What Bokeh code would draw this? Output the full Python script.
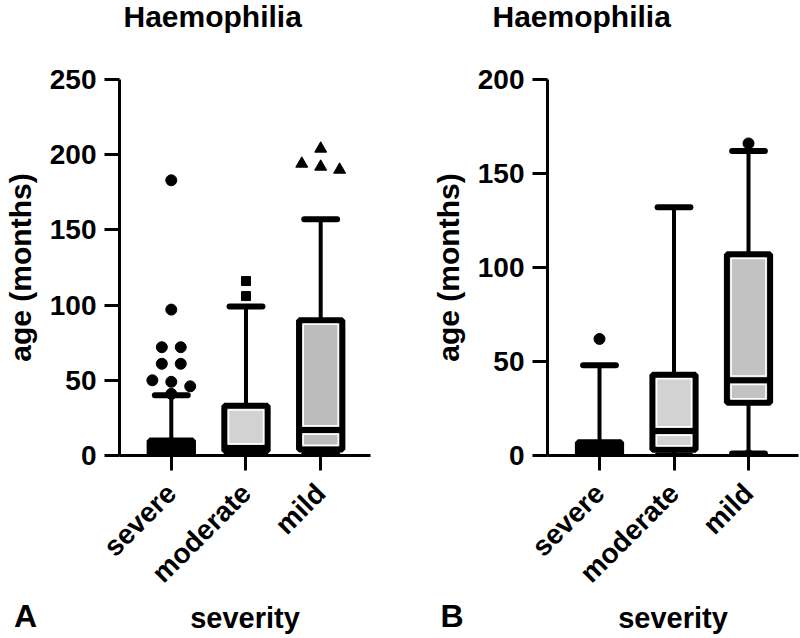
import math
from bokeh.plotting import figure
from bokeh.layouts import row
from bokeh.models import Range1d, FixedTicker, Label, Title
from bokeh.embed import file_html
from bokeh.resources import INLINE

categories = ["severe", "moderate", "mild"]

# ---- Panel A (age in months by severity) ----
a_low = [0, 0, 1]
a_q1 = [1, 3, 4]
a_median = [3, 5, 17]
a_q3 = [10, 33, 90]
a_high = [40, 99, 157]
a_out_severe = [183, 97, 72, 72, 61, 61, 50, 49, 46, 41]
a_out_moderate = [116, 106]
a_out_mild = [204, 194, 192, 190]
a_yticks = [0, 50, 100, 150, 200, 250]

# ---- Panel B ----
b_low = [0, 0, 1]
b_q1 = [0, 3, 28]
b_median = [2, 13, 40]
b_q3 = [7, 43, 107]
b_high = [48, 132, 162]
b_out_severe = [62]
b_out_moderate = []
b_out_mild = [166, 0]
b_yticks = [0, 50, 100, 150, 200]

FONT = "Liberation Sans"
HEIGHT = 638
TOP = 79
BOTTOM = 183
BOX_LW = 6


def swarm(values, center, gap, step):
    groups = []
    for v in sorted(values, reverse=True):
        if groups and groups[-1][0] - v <= gap:
            groups[-1].append(v)
        else:
            groups.append([v])
    xs, ys = [], []
    for g in groups:
        n = len(g)
        for i, v in enumerate(g):
            xs.append(center + (i - (n - 1) / 2) * step)
            ys.append(v)
    return xs, ys


def panel(low, q1, med, q3, high, outs, markers, fills, yticks, ymax,
          xr, frame_left, frame_width, right_border, title_offset, letter, letter_px,
          gap_px, step_px):
    fig_w = frame_left + frame_width + right_border
    frame_h = HEIGHT - TOP - BOTTOM
    p = figure(width=fig_w, height=HEIGHT, output_backend="svg", toolbar_location=None,
               x_range=Range1d(*xr), y_range=Range1d(0, ymax),
               min_border_left=frame_left, min_border_right=right_border,
               min_border_top=TOP, min_border_bottom=BOTTOM)
    p.outline_line_color = None
    p.xgrid.visible = False
    p.ygrid.visible = False

    xpx = frame_width / (xr[1] - xr[0])   # pixels per category unit
    ypx = frame_h / ymax                  # pixels per month

    xs = [i + 1 for i in range(len(categories))]
    hw = 0.29
    cw = 0.22
    # whiskers
    p.segment(x0=xs, y0=q3, x1=xs, y1=high, line_color="black", line_width=4)
    p.segment(x0=xs, y0=low, x1=xs, y1=q1, line_color="black", line_width=4)
    p.segment(x0=[x - cw for x in xs], y0=high, x1=[x + cw for x in xs], y1=high,
              line_color="black", line_width=6, line_cap="round")
    p.segment(x0=[x - cw for x in xs], y0=low, x1=[x + cw for x in xs], y1=low,
              line_color="black", line_width=6, line_cap="round")
    # boxes
    p.quad(left=[x - hw for x in xs], right=[x + hw for x in xs], bottom=q1, top=q3,
           fill_color=fills, line_color="black", line_width=BOX_LW)
    # thin white inner rim of each half box (as in the printed figure)
    inset = BOX_LW / 2 + 1.2
    dx, dy = inset / xpx, inset / ypx
    rl, rr, rb, rt = [], [], [], []
    for x, a, m, b, f in zip(xs, q1, med, q3, fills):
        if f == "black":
            continue
        for lo, hi in ((a, m), (m, b)):
            if (hi - lo) * ypx > 2 * inset + 3:
                rl.append(x - hw + dx)
                rr.append(x + hw - dx)
                rb.append(lo + dy)
                rt.append(hi - dy)
    if rl:
        p.quad(left=rl, right=rr, bottom=rb, top=rt, fill_color=None,
               line_color="white", line_width=1.5)
    p.segment(x0=[x - hw for x in xs], y0=med, x1=[x + hw for x in xs], y1=med,
              line_color="black", line_width=BOX_LW)
    # outliers
    for x, vals, mk in zip(xs, outs, markers):
        if not vals:
            continue
        ox, oy = swarm(vals, x, gap_px / ypx, step_px / xpx)
        size = {"circle": 11, "square": 9, "triangle": 12}[mk]
        p.scatter(ox, oy, marker=mk, size=size, fill_color="black", line_color="black")

    # axes
    for ax in (p.xaxis[0], p.yaxis[0]):
        ax.axis_line_width = 3
        ax.major_tick_line_width = 3
        ax.major_tick_in = 0
        ax.minor_tick_line_color = None
        ax.major_label_text_font = FONT
        ax.major_label_text_font_style = "bold"
        ax.major_label_text_color = "black"
        ax.axis_label_text_font = FONT
        ax.axis_label_text_font_style = "bold"
        ax.axis_label_text_color = "black"
    p.yaxis.ticker = FixedTicker(ticks=yticks)
    p.yaxis.major_tick_out = 15
    p.yaxis.major_label_standoff = 8
    p.yaxis.major_label_text_font_size = "28px"
    p.yaxis.axis_label = "age (months)"
    p.yaxis.axis_label_text_font_size = "30px"
    p.yaxis.axis_label_standoff = 10

    p.xaxis.ticker = FixedTicker(ticks=xs)
    p.xaxis.major_label_overrides = {x: c for x, c in zip(xs, categories)}
    p.xaxis.major_tick_out = 15
    p.xaxis.major_label_orientation = math.pi / 4
    p.xaxis.major_label_standoff = 18
    p.xaxis.major_label_text_font_size = "28px"
    p.xaxis.axis_label = "severity"
    p.xaxis.axis_label_text_font_size = "29px"
    p.xaxis.axis_label_standoff = -1

    # panel letter (kept in the top border so that it is not clipped by the frame)
    lx = xr[0] + (letter_px[0] - frame_left) / xpx
    ly = -(letter_px[1] - (TOP + frame_h)) / ypx
    p.add_layout(Label(x=lx, y=ly, text=letter, text_font=FONT, text_font_style="bold",
                       text_font_size="32px", text_baseline="alphabetic", padding=7,
                       text_align="left", text_color="black"), "above")

    p.add_layout(Title(text="Haemophilia", align="left", offset=title_offset, standoff=-6,
                       text_font=FONT, text_font_style="bold", text_font_size="30px",
                       text_color="black"), "above")
    return p


pA = panel(a_low, a_q1, a_median, a_q3, a_high,
           [a_out_severe, a_out_moderate, a_out_mild], ["circle", "square", "triangle"],
           ["black", "#d2d2d2", "#bcbcbc"], a_yticks, 250,
           (0.3067, 3.6667), 118, 252, 30, 4, "A", (5, 615), 12, 19)
pB = panel(b_low, b_q1, b_median, b_q3, b_high,
           [b_out_severe, b_out_moderate, b_out_mild], ["circle", "circle", "circle"],
           ["black", "#d2d2d2", "#c2c2c2"], b_yticks, 200,
           (0.302, 3.671), 147, 251, 2, -55, "B", (33, 615), 12, 19)

layout = row(pA, pB)
open("out.html", "w").write(file_html(layout, INLINE))
